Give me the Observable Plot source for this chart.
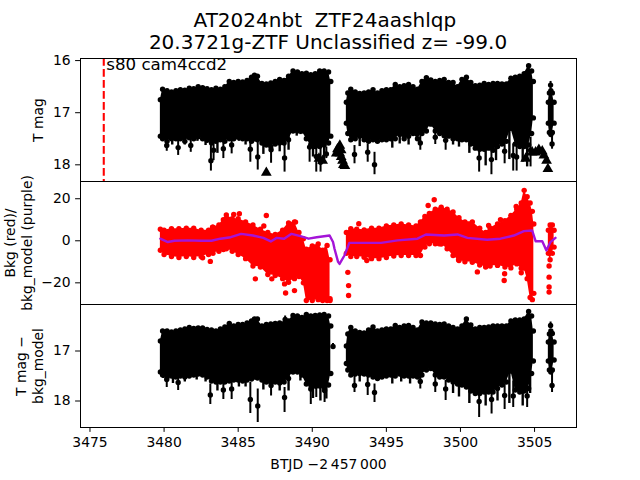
<!DOCTYPE html>
<html>
<head>
<meta charset="utf-8">
<style>
html,body{margin:0;padding:0;background:#fff;overflow:hidden}
#page{width:640px;height:480px;position:relative;font-family:"DejaVu Sans",sans-serif;color:#000}
#title{box-sizing:border-box;width:640px;height:58px;padding:10px 0 0 16px;text-align:center;font-size:20px;line-height:21.5px;white-space:pre}
svg{display:block}
</style>
<script src="https://cdn.jsdelivr.net/npm/d3@7"></script>
<script src="https://cdn.jsdelivr.net/npm/@observablehq/plot@0.6"></script>
</head>
<body>
<div id="page"><div id="title">AT2024nbt  ZTF24aashlqp 
20.3721g-ZTF Unclassified z= -99.0</div></div>
<script>
// sampling times of the dense light-curve envelope
const timesA=[3479.75,3479.9,3480.2,3480.5,3480.8,3481.1,3481.4,3481.7,3482,3482.3,3482.6,3482.9,3483.2,3483.5,3483.8,3484.1,3484.4,3484.7,3485,3485.3,3485.6,3485.9,3486.1,3486.3,3486.6,3486.9,3487.2,3487.5,3487.8,3488.1,3488.4,3488.7,3489,3489.3,3489.6,3489.9,3490.2,3490.5,3490.8,3491.1,3491.25];
const timesB=[3492.3,3492.4,3492.6,3492.9,3493.2,3493.5,3493.8,3494.1,3494.4,3494.7,3495,3495.3,3495.6,3495.9,3496.2,3496.5,3496.8,3497.1,3497.4,3497.7,3498,3498.3,3498.6,3498.9,3499.2,3499.5,3499.8,3500.1,3500.4,3500.7,3501,3501.3,3501.6,3501.9,3502.2,3502.5,3502.8,3503.1,3503.4,3503.7,3504,3504.3,3504.6,3504.8,3504.92];
const timesC=[3505.93,3506,3506.1,3506.2,3506.32];

// T mag: upper and lower edge
const magTopA=[16.75,16.55,16.58,16.6,16.58,16.56,16.57,16.53,16.54,16.5,16.52,16.54,16.56,16.53,16.55,16.5,16.4,16.42,16.4,16.41,16.38,16.32,16.28,16.3,16.44,16.45,16.43,16.4,16.36,16.38,16.3,16.2,16.22,16.25,16.24,16.27,16.25,16.2,16.2,16.22,16.4];
const magBotA=[17.45,17.5,17.55,17.5,17.5,17.5,17.55,17.48,17.5,17.46,17.5,17.53,17.58,17.55,17.52,17.55,17.5,17.5,17.47,17.5,17.5,17.55,17.5,17.52,17.58,17.62,17.65,17.6,17.58,17.58,17.52,17.35,17.35,17.35,17.5,17.62,17.65,17.65,17.62,17.58,17.45];
const magTopB=[16.8,16.62,16.55,16.6,16.63,16.62,16.6,16.56,16.62,16.58,16.56,16.56,16.46,16.5,16.48,16.46,16.5,16.55,16.4,16.33,16.37,16.4,16.38,16.36,16.42,16.42,16.5,16.36,16.32,16.42,16.48,16.47,16.44,16.46,16.44,16.44,16.45,16.45,16.34,16.32,16.3,16.25,16.1,16.2,16.4];
const magBotB=[17.2,17.4,17.52,17.5,17.45,17.52,17.55,17.52,17.55,17.52,17.52,17.5,17.5,17.42,17.5,17.45,17.4,17.5,17.4,17.35,17.22,17.35,17.4,17.44,17.45,17.5,17.5,17.52,17.52,17.6,17.68,17.7,17.7,17.68,17.72,17.65,17.6,17.55,17.3,17.6,17.65,17.65,17.62,17.4,17.1];
const magTopC=[16.8,16.62,16.58,16.62,16.8];
const magBotC=[17.2,17.38,17.42,17.38,17.2];
// isolated points with error bars: time, mag, bar top, bar bottom
const magDipT=[3480.18,3480.95,3481.8,3483.16,3483.34,3484,3484.56,3485.82,3486.32,3487.22,3488.13,3489.82,3490.27,3490.56,3490.95,3492.85,3493.74,3494.2,3497.29,3498.3,3499,3501.26,3502.09,3502.98,3503.56,3503.79,3504.73,3506.08,3506.18];
const magDipM=[17.63,17.67,17.63,17.92,17.72,17.69,17.62,17.7,17.85,17.71,17.87,17.66,17.84,17.95,17.79,17.8,17.76,18,17.58,17.47,17.53,17.87,17.9,17.74,17.82,17.85,17.72,16.47,17.6];
const magDipA=[17.5,17.53,17.5,17.63,17.53,17.5,17.47,17.4,17.56,17.47,17.6,17.47,17.6,17.69,17.66,17.63,17.6,17.76,17.44,17.31,17.34,17.66,17.66,17.53,17.6,17.53,17.47,16.4,17.4];
const magDipB=[17.74,17.82,17.76,18.12,17.92,17.88,17.79,17.95,18.1,17.97,18.14,17.95,18.14,18.14,17.88,17.98,17.95,18.19,17.72,17.61,17.72,18.14,18.19,17.98,18.12,18.12,18.04,16.55,17.7];
// thin downward spikes on the lower edge: time, tip
const magSpikeT=[3479.9,3480.55,3481.4,3482.25,3482.8,3483.6,3485.05,3485.5,3486.7,3487.8,3488.4,3488.95,3489.2,3490.05,3490.8,3493.2,3495.4,3495.9,3496.5,3499.5,3499.9,3500.6,3501.7,3502.4,3503.3,3504.2,3504.5];
const magSpikeB=[17.55,17.62,17.62,17.55,17.63,17.78,17.55,17.62,17.8,17.75,17.72,17.45,17.42,17.85,17.9,17.65,17.68,17.6,17.62,17.62,17.66,17.78,18.02,17.92,17.9,17.95,18.04];
// upper limits (triangles)
const limT=[3486.9,3490.45,3490.7,3491.62,3491.7,3491.77,3491.86,3491.86,3491.95,3491.95,3492.04,3492.1,3492.2,3504.4,3504.84,3505.07,3505.29,3505.52,3505.63,3505.81,3505.9];
const limM=[18.15,17.88,17.92,17.78,17.7,17.7,17.63,17.78,17.72,17.85,17.92,18,18.02,17.88,17.76,17.76,17.71,17.74,17.82,17.92,18.08];

// Bkg: upper and lower edge
const bkgTA=[3479.75,3480,3480.5,3481,3481.5,3482,3482.5,3483,3483.3,3483.7,3484,3484.2,3484.6,3485,3485.5,3486,3486.5,3487,3487.5,3488,3488.4,3488.8,3489.1,3489.4,3489.6,3490,3490.4,3490.7,3491,3491.2];
const bkgTopA=[5.5,5,5.7,5.7,6,6,5,5,6.5,7.5,10,12.3,10.5,10.5,9,7.5,5.5,4,3,5,8.5,9,4,1,-4,-2.5,-1.5,-4.5,-2.2,-9];
const bkgBotA=[-4.5,-6.5,-7.5,-8,-7.5,-8,-7.5,-6.5,-6,-5,-4.2,-3.8,-5,-6.5,-8.5,-12,-12.5,-16,-16.5,-18,-19.7,-18,-17,-20,-28.4,-28.4,-28,-28.4,-28.4,-28.4];
const bkgTB=[3492.3,3492.6,3493,3493.5,3494,3494.5,3495,3495.5,3496,3496.5,3497,3497.3,3497.6,3497.9,3498.3,3498.7,3499.1,3499.5,3499.9,3500.3,3500.8,3501.3,3501.7,3502,3502.5,3503,3503.4,3503.8,3504.1,3504.3,3504.5,3504.7,3504.85,3504.95];
const bkgTopB=[4,5.7,5.5,5.2,6,6,7,7.5,8,7.5,7,9,11.6,13,15,16,15,13.7,11,9,9,6,4,6,8,9.5,12,15,18,24,21,18,14,8];
const bkgBotB=[-6,-7.5,-7.5,-7.8,-8.5,-8.5,-8,-7.2,-7,-7,-7,-7,-3,-1.4,-1.4,-1.5,-3.8,-7,-9.4,-10,-10.2,-11.5,-12.5,-12,-11.7,-12.5,-12.9,-11,-13,-13,-18,-27,-28,-25];
const bkgTC=[3505.93,3506.05,3506.2,3506.32];
const bkgTopC=[5,7.5,7.5,5];
const bkgBotC=[-6,-9,-6,-3];
const bkgDotT=[3482.6,3483.12,3483.27,3484.7,3485.08,3486.16,3486.73,3486.9,3487.27,3488.13,3488.2,3488.8,3488.87,3491.2,3492.45,3492.45,3492.4,3493.14,3493.68,3497.82,3498.23,3498.56,3499.69,3499.87,3501.14,3501.9,3502.7,3502.95,3502.98,3503.76,3504.1,3505.98,3505.98,3505.98,3505.98];
const bkgDotV=[-8.1,-9.8,6.5,12.5,12.9,-18.1,7,12,-18.1,-20.5,-24.8,-23.7,8.9,-27.6,-21.3,-26,-15,8.1,-9.4,16.8,19.5,-1.4,-5.7,-9,-14.8,7.3,10,-18.9,-15.7,16.3,-15.2,-12,-17.3,-22,-24.4];
const modelT=[3479.75,3480.25,3480.7,3481.6,3482.5,3483.2,3483.8,3484.5,3485.2,3486,3486.7,3487.2,3487.6,3488.1,3488.6,3489.2,3489.75,3490.3,3491.17,3491.4,3491.5,3491.74,3491.84,3492.17,3492.5,3493.5,3494.64,3495.76,3497.1,3497.67,3498.9,3499.8,3500.47,3501.8,3502.7,3503.6,3504.28,3504.84,3505.07,3505.52,3505.8,3506.07,3506.41];
const modelV=[1,-0.6,0,0.2,0,0,1,1.7,3.3,2.5,1.4,-0.3,1.4,1,3.3,2.2,1,1.7,2.5,-0.6,-3.8,-10,-11,-7,-1,-1,-1,0.2,1,3,2.5,3,1.4,0.5,1,2.5,4.6,4.9,-0.2,-0.2,-4.6,-0.6,1.4];

// T mag - bkg_model: upper and lower edge
const corTopA=[16.8,16.6,16.6,16.62,16.6,16.58,16.56,16.53,16.55,16.54,16.54,16.57,16.58,16.6,16.56,16.52,16.45,16.5,16.47,16.47,16.44,16.4,16.36,16.36,16.5,16.47,16.46,16.45,16.44,16.45,16.4,16.29,16.3,16.33,16.27,16.3,16.29,16.28,16.27,16.3,16.5];
const corBotA=[17.42,17.48,17.52,17.5,17.52,17.5,17.52,17.5,17.48,17.46,17.48,17.52,17.6,17.62,17.62,17.62,17.6,17.58,17.58,17.6,17.58,17.56,17.52,17.54,17.58,17.62,17.62,17.62,17.64,17.62,17.55,17.42,17.42,17.48,17.66,17.68,17.7,17.7,17.72,17.68,17.45];
const corTopB=[16.9,16.66,16.53,16.6,16.63,16.64,16.58,16.52,16.6,16.58,16.56,16.56,16.49,16.53,16.5,16.49,16.53,16.58,16.42,16.44,16.44,16.46,16.47,16.46,16.5,16.53,16.56,16.5,16.36,16.48,16.56,16.53,16.53,16.52,16.5,16.5,16.5,16.5,16.4,16.38,16.38,16.36,16.21,16.3,16.6];
const corBotB=[17.25,17.38,17.48,17.46,17.45,17.46,17.48,17.52,17.55,17.52,17.5,17.48,17.5,17.46,17.5,17.5,17.5,17.52,17.48,17.38,17.35,17.48,17.52,17.52,17.58,17.62,17.66,17.68,17.72,17.8,17.85,17.85,17.82,17.82,17.82,17.75,17.68,17.62,17.4,17.78,17.82,17.8,17.75,17.45,17.2];
const corTopC=[16.82,16.66,16.6,16.65,16.82];
const corBotC=[17.2,17.38,17.42,17.38,17.18];
const corDipT=[3480.18,3480.95,3483.12,3484,3484.56,3485.82,3486.32,3487.22,3488.13,3488.17,3489.9,3490.27,3490.83,3491.4,3492.85,3493.74,3494.2,3497.29,3498.3,3499,3501.26,3502.1,3502.98,3503.56,3504.5,3506.08,3506.18];
const corDipM=[17.57,17.63,17.88,17.78,17.76,17.97,18.1,17.69,17.93,16.37,17.76,17.7,17.79,16.91,17.69,17.67,17.83,17.61,17.66,17.76,18.01,17.97,17.89,17.9,17.9,16.49,17.69];
const corDipA=[17.49,17.49,17.66,17.59,17.59,17.63,17.76,17.53,17.73,16.3,17.56,17.6,17.66,16.85,17.49,17.49,17.66,17.49,17.49,17.59,17.79,17.76,17.66,17.6,17.6,16.42,17.46];
const corDipB=[17.73,17.79,18.07,17.97,17.97,18.25,18.43,17.9,18.23,16.43,18.07,17.93,18.03,16.97,17.83,17.89,18.03,17.76,17.83,17.99,18.33,18.26,18.17,18.13,18.13,16.55,17.83];
const corSpikeT=[3479.95,3480.6,3481.4,3482.2,3482.8,3483.6,3485.05,3485.5,3486.7,3487.8,3488.4,3489.2,3490.05,3490.55,3490.95,3493.2,3495.4,3496,3496.6,3499.5,3499.9,3500.6,3501.7,3502.5,3503.3,3504.2,3504.7];
const corSpikeB=[17.55,17.65,17.62,17.58,17.62,17.8,17.72,17.72,17.78,17.8,17.8,17.6,17.95,18,17.96,17.62,17.66,17.62,17.66,17.85,17.92,18.05,18.1,18,18.05,18.1,17.85];

const magTicks=[16,17,18], bkgTicks=[20,0,-20], corTicks=[17,18], timeTicks=[3475,3480,3485,3490,3495,3500,3505];
const xDomain=[3474.36,3507.83];
const font="DejaVu Sans";
const band=(t,top,bot)=>t.map((d,i)=>({t:d,top:top[i],bot:bot[i]}));
const dips=(t,m,a,b)=>t.map((d,i)=>({t:d,m:m[i],a:a[i],b:b[i]}));
const base={width:640,marginLeft:80,marginRight:64,marginTop:0,
  style:{background:"transparent",overflow:"visible",fontFamily:font,fontSize:"13.9px",color:"#000"}};
const axisOpts={tickSize:4.9,tickPadding:4.9,fontSize:13.9,fill:"#000",stroke:"#000",strokeOpacity:1,fillOpacity:1};
const yAxis=(ticks)=>Plot.axisY({...axisOpts,ticks,label:null,tickFormat:d=>d<0?"\u2212"+(-d):String(d)});
const yTitle=(s,dx)=>Plot.text([s],{frameAnchor:"left",textAnchor:"middle",dx,rotate:-90,fontSize:13.9,lineHeight:1.22,fill:"#000"});
const bandMarks=(rows,color,r)=>rows.flatMap(data=>[
  Plot.areaY(data,{x:"t",y1:"top",y2:"bot",fill:color}),
  Plot.dot(data,{x:"t",y:"top",r,fill:color}),
  Plot.dot(data,{x:"t",y:"bot",r,fill:color})
]);
const dipMarks=(d)=>[
  Plot.ruleX(d,{x:"t",y1:"a",y2:"b",stroke:"#000",strokeWidth:2}),
  Plot.dot(d,{x:"t",y:"m",r:2.7,fill:"#000"})
];
const spikeMarks=(t,tip)=>Plot.ruleX(t.map((d,i)=>({t:d,b:tip[i]})),{x:"t",y1:17,y2:"b",stroke:"#000",strokeWidth:2.4});

const p1=Plot.plot({...base,height:123,marginBottom:0,x:{domain:xDomain,axis:null},y:{domain:[18.32,15.96]},marks:[
  ...bandMarks([band(timesA,magTopA,magBotA),band(timesB,magTopB,magBotB),band(timesC,magTopC,magBotC)],"#000",2.7),
  spikeMarks(magSpikeT,magSpikeB),
  ...dipMarks(dips(magDipT,magDipM,magDipA,magDipB)),
  Plot.dot(limT.map((t,i)=>({t,m:limM[i]})),{x:"t",y:"m",symbol:"triangle",r:4,fill:"#000"}),
  Plot.ruleX([3475.93],{stroke:"#f00",strokeWidth:2.08,strokeDasharray:"7.7,3.3"}),
  Plot.text(["s80 cam4ccd2"],{x:3476.1,y:16.19,textAnchor:"start",lineAnchor:"bottom",fontSize:16.67,fill:"#000"}),
  Plot.frame({stroke:"#000"}),
  yAxis(magTicks),yTitle("T mag",-43)
]});
const p2=Plot.plot({...base,height:123,marginBottom:0,x:{domain:xDomain,axis:null},y:{domain:[-30.3,28.2]},marks:[
  ...bandMarks([band(bkgTA,bkgTopA,bkgBotA),band(bkgTB,bkgTopB,bkgBotB),band(bkgTC,bkgTopC,bkgBotC)],"#f00",2.7),
  Plot.dot(bkgDotT.map((t,i)=>({t,v:bkgDotV[i]})),{x:"t",y:"v",r:2.7,fill:"#f00"}),
  Plot.line(modelT.map((t,i)=>({t,v:modelV[i]})),{x:"t",y:"v",stroke:"#a414d8",strokeWidth:2.4,curve:"linear"}),
  Plot.frame({stroke:"#000"}),
  yAxis(bkgTicks),yTitle("Bkg (red)/\nbkg_model (purple)",-62)
]});
const p3=Plot.plot({...base,height:176,marginBottom:53,x:{domain:xDomain},y:{domain:[18.53,16.07]},marks:[
  ...bandMarks([band(timesA,corTopA,corBotA),band(timesB,corTopB,corBotB),band(timesC,corTopC,corBotC)],"#000",2.7),
  spikeMarks(corSpikeT,corSpikeB),
  ...dipMarks(dips(corDipT,corDipM,corDipA,corDipB)),
  Plot.frame({stroke:"#000"}),
  yAxis(corTicks),yTitle("T mag \u2212\nbkg_model",-51),
  Plot.axisX({...axisOpts,ticks:timeTicks,tickFormat:d=>String(d),label:"BTJD \u22122\u2009457\u2009000",labelAnchor:"center",labelArrow:"none",labelOffset:41})
]});
const page=document.getElementById("page");
[p1,p2,p3].forEach(p=>page.appendChild(p));
</script>
</body>
</html>
